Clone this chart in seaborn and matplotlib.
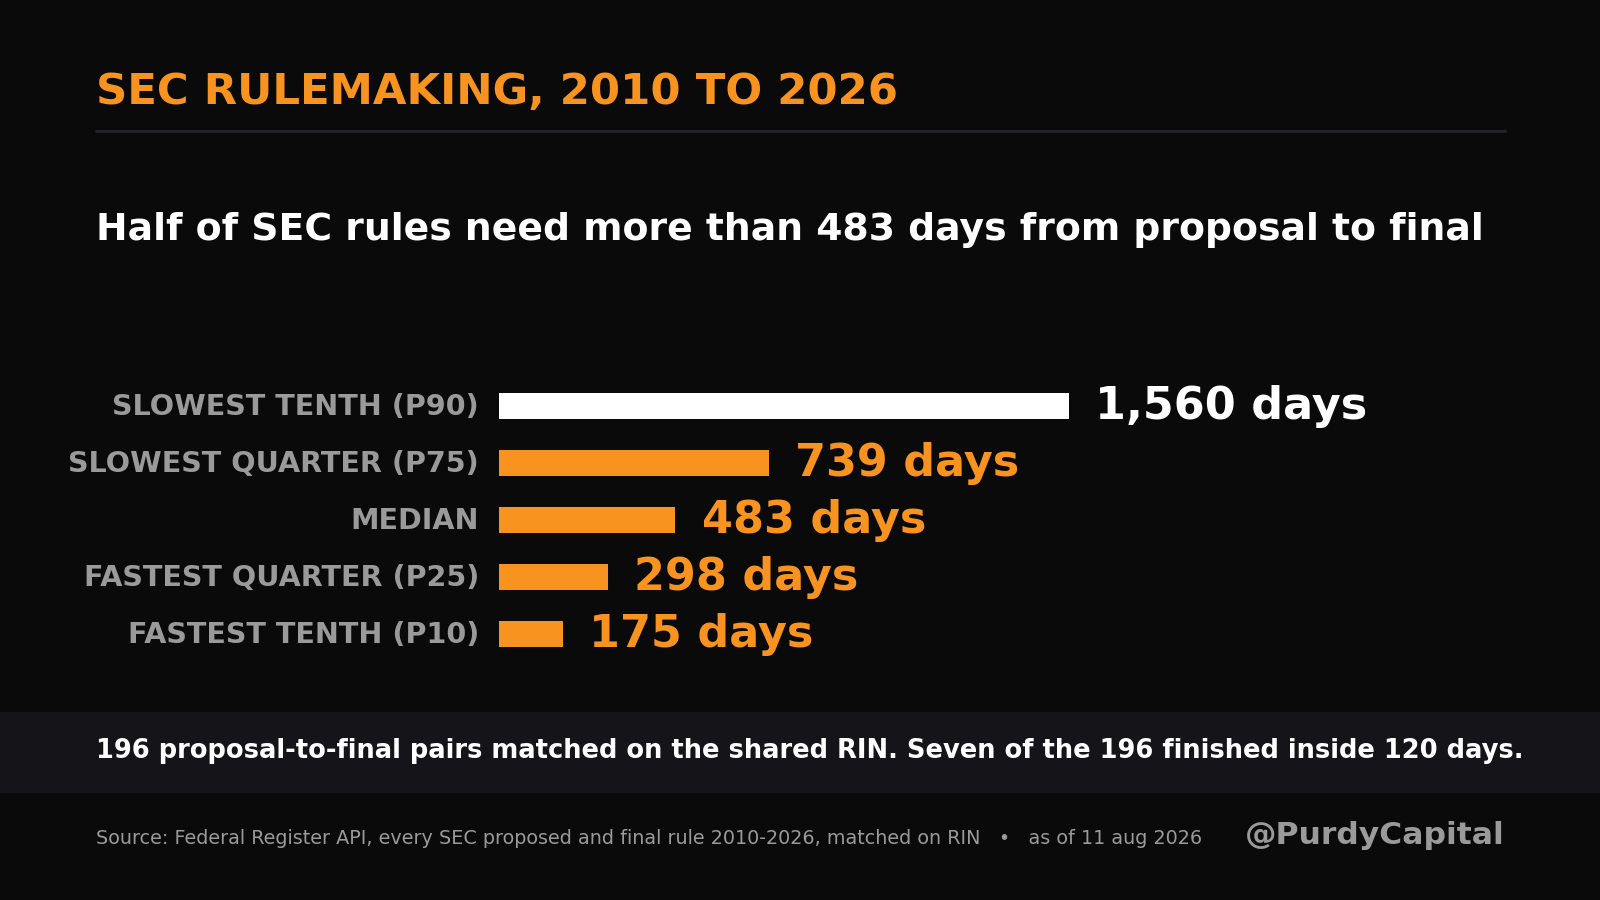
import matplotlib
matplotlib.use("Agg")
import matplotlib.pyplot as plt
import matplotlib.transforms as mtransforms
from matplotlib.patches import Rectangle
from matplotlib.lines import Line2D
import seaborn as sns
import pandas as pd

# data
categories = ["SLOWEST TENTH (P90)", "SLOWEST QUARTER (P75)", "MEDIAN",
              "FASTEST QUARTER (P25)", "FASTEST TENTH (P10)"]
days = [1560, 739, 483, 298, 175]

title = "SEC RULEMAKING, 2010 TO 2026"
subtitle = "Half of SEC rules need more than 483 days from proposal to final"
note = "196 proposal-to-final pairs matched on the shared RIN. Seven of the 196 finished inside 120 days."
source = ("Source: Federal Register API, every SEC proposed and final rule 2010-2026, "
          "matched on RIN   \u2022   as of 11 aug 2026")
handle = "@PurdyCapital"

BG = "#0a0a0a"
ORANGE = "#f7931e"
GREY = "#9a9a9a"
WHITE = "#ffffff"
BAND = "#141419"

sns.set_theme(style="dark")
plt.rcParams["font.family"] = ["DejaVu Sans"]

W, H = 1600, 900
fig = plt.figure(figsize=(16, 9), dpi=100, facecolor=BG)


def fx(px):
    return px / W


def fy(py):
    return 1 - py / H


# footer band and rule under the title
fig.patches.append(Rectangle((0, fy(793)), 1, 81 / H, transform=fig.transFigure,
                             facecolor=BAND, edgecolor="none", zorder=0))
fig.lines.append(Line2D([fx(96), fx(1505)], [fy(131), fy(131)], transform=fig.transFigure,
                        color="#232327", lw=2.2))

fig.text(fx(96), fy(104), title, color=ORANGE, fontsize=31.2, fontweight="bold", va="baseline")
fig.text(fx(96), fy(240), subtitle, color=WHITE, fontsize=27.2, fontweight="bold", va="baseline")
fig.text(fx(96), fy(758), note, color=WHITE, fontsize=18.5, fontweight="bold", va="baseline")
fig.text(fx(96), fy(844), source, color=GREY, fontsize=13.8, va="baseline")
fig.text(fx(1505), fy(844), handle, color=GREY, fontsize=22.6, fontweight="bold",
         va="baseline", ha="right")

# bar chart
df = pd.DataFrame({"category": categories, "days": days})
colors = [WHITE] + [ORANGE] * (len(categories) - 1)

ax = fig.add_axes([fx(499), fy(662.5), fx(1023), 285 / H])
ax.set_facecolor(BG)
sns.barplot(data=df, x="days", y="category", hue="category", palette=colors,
            legend=False, width=0.446, saturation=1, linewidth=0, ax=ax)
ax.set_xlim(0, 2800)
ax.set_ylim(len(categories) - 0.5, -0.5)

for i, (v, c) in enumerate(zip(days, colors)):
    ax.annotate(f"{v:,} days", xy=(v, i), xytext=(19, 0), textcoords="offset points",
                va="center", ha="left", color=c, fontsize=32, fontweight="bold")

ax.set_xlabel("")
ax.set_ylabel("")
ax.set_xticks([])
ax.tick_params(axis="y", length=0, pad=14.4)
nudge = mtransforms.ScaledTranslation(0, 2.5 / 100, fig.dpi_scale_trans)
for lab in ax.get_yticklabels():
    lab.set_color(GREY)
    lab.set_fontsize(20.6)
    lab.set_fontweight("bold")
    lab.set_transform(lab.get_transform() + nudge)
for s in ax.spines.values():
    s.set_visible(False)
ax.grid(False)

fig.savefig("out.png", dpi=100, facecolor=BG)
